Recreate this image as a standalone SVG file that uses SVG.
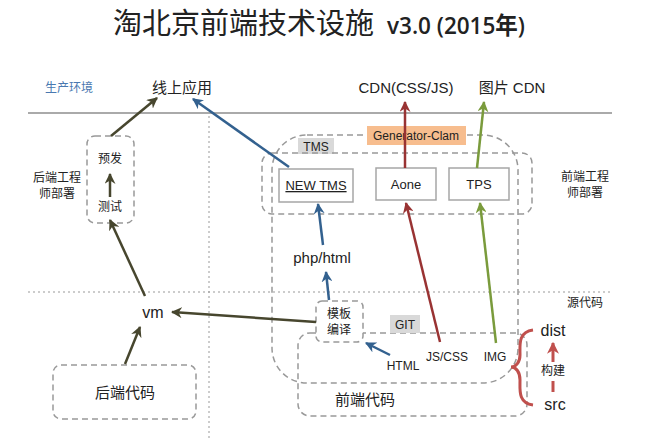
<svg xmlns="http://www.w3.org/2000/svg" width="653" height="446" viewBox="0 0 653 446">
<style>
text{font-family:"Liberation Sans","Noto Sans CJK SC",sans-serif;fill:#222;text-anchor:middle}
.cn{font-family:"Noto Sans CJK SC","Liberation Sans",sans-serif}
.dash{fill:none;stroke:#999;stroke-width:1.5;stroke-dasharray:6 4}
.dot{fill:none;stroke:#999;stroke-width:1;stroke-dasharray:2 3}
.box{fill:#fff;stroke:#a6a6a6;stroke-width:1.5}
.olive{stroke:#47462e;stroke-width:2.5;fill:none;marker-end:url(#mo)}
.blue{stroke:#33618f;stroke-width:2.5;fill:none;marker-end:url(#mb)}
.red{stroke:#993333;stroke-width:2.5;fill:none;marker-end:url(#mr)}
.green{stroke:#7a9b3c;stroke-width:2.5;fill:none;marker-end:url(#mg)}
.lred{stroke:#c0504d;stroke-width:3;fill:none}
</style>
<defs>
<marker id="mo" viewBox="0 0 10 10" refX="9" refY="5" markerWidth="4.4" markerHeight="4.4" orient="auto"><path d="M0,0 L10,5 L0,10 L3,5 z" fill="#47462e"/></marker>
<marker id="mb" viewBox="0 0 10 10" refX="9" refY="5" markerWidth="4.4" markerHeight="4.4" orient="auto"><path d="M0,0 L10,5 L0,10 L3,5 z" fill="#33618f"/></marker>
<marker id="mr" viewBox="0 0 10 10" refX="9" refY="5" markerWidth="4.4" markerHeight="4.4" orient="auto"><path d="M0,0 L10,5 L0,10 L3,5 z" fill="#993333"/></marker>
<marker id="mg" viewBox="0 0 10 10" refX="9" refY="5" markerWidth="4.4" markerHeight="4.4" orient="auto"><path d="M0,0 L10,5 L0,10 L3,5 z" fill="#7a9b3c"/></marker>
<marker id="ml" viewBox="0 0 10 10" refX="9" refY="5" markerWidth="4" markerHeight="4" orient="auto"><path d="M0,0 L10,5 L0,10 L3,5 z" fill="#c0504d"/></marker>
</defs>
<rect width="653" height="446" fill="#fff"/>

<g id="title">
<text class="cn" x="113" y="34" font-size="29" style="text-anchor:start">淘北京前端技术设施</text>
<text x="387" y="34" font-size="24" font-weight="600" style="text-anchor:start;font-family:'Open Sans','Noto Sans CJK SC',sans-serif" textLength="138" lengthAdjust="spacingAndGlyphs">v3.0 (2015年)</text>
</g>

<g id="layout">
<line x1="28" y1="113" x2="612" y2="113" stroke="#aaa" stroke-width="2"/>
<line class="dot" x1="28" y1="292" x2="612" y2="292"/>
<line class="dot" x1="209" y1="116" x2="209" y2="440"/>
<text class="cn" x="69" y="92" font-size="12" style="fill:#4a78b0">生产环境</text>
<text class="cn" x="57" y="182" font-size="12">后端工程</text>
<text class="cn" x="57" y="198" font-size="12">师部署</text>
<text class="cn" x="585" y="181" font-size="12">前端工程</text>
<text class="cn" x="585" y="197" font-size="12">师部署</text>
<text class="cn" x="585" y="307" font-size="12">源代码</text>
</g>

<g id="online"><text class="cn" x="182" y="93" font-size="15">线上应用</text></g>
<g id="cdn-css-js"><text x="406" y="93" font-size="15">CDN(CSS/JS)</text></g>
<g id="img-cdn"><text x="512" y="93" font-size="15">图片 CDN</text></g>

<g id="tms-group">
<rect class="dash" x="272" y="135" width="246" height="248" rx="35"/>
<rect x="298" y="138" width="36" height="16" fill="#d9d9d9"/>
<text x="316" y="150.5" font-size="12">TMS</text>
</g>

<g id="fe-deploy">
<rect class="dash" x="262" y="153" width="270" height="61" rx="10"/>
</g>

<g id="generator-clam">
<rect x="367" y="126" width="99" height="19" fill="#f7bd8e"/>
<text x="416" y="140" font-size="12">Generator-Clam</text>
</g>

<g id="new-tms">
<rect class="box" x="279" y="169" width="74" height="33"/>
<text x="316" y="190" font-size="13" text-decoration="underline">NEW TMS</text>
</g>
<g id="aone">
<rect class="box" x="376" y="168" width="60" height="32"/>
<text x="406" y="189" font-size="13">Aone</text>
</g>
<g id="tps">
<rect class="box" x="449" y="168" width="60" height="32"/>
<text x="479" y="189" font-size="13">TPS</text>
</g>

<g id="be-deploy">
<rect class="dash" x="87" y="136" width="47" height="87" rx="8"/>
<text class="cn" x="110" y="163" font-size="12">预发</text>
<text class="cn" x="110" y="211" font-size="12">测试</text>
</g>

<g id="php-html"><text x="322" y="263" font-size="15">php/html</text></g>
<g id="vm"><text x="153" y="318" font-size="16">vm</text></g>

<g id="fe-code">
<rect class="dash" x="298" y="333" width="229" height="83" rx="12"/>
<text class="cn" x="365" y="405" font-size="15">前端代码</text>
<rect x="390" y="315" width="30" height="18" fill="#d9d9d9"/>
<text x="405" y="328.5" font-size="12">GIT</text>
<text x="403" y="370" font-size="12">HTML</text>
<text x="447" y="361" font-size="12">JS/CSS</text>
<text x="495" y="361" font-size="12">IMG</text>
</g>

<g id="tpl-compile">
<rect class="dash" x="316" y="301" width="47" height="41" rx="6" style="fill:#fff"/>
<text class="cn" x="339" y="318" font-size="12">模板</text>
<text class="cn" x="339" y="334" font-size="12">编译</text>
</g>

<g id="be-code">
<rect class="dash" x="53" y="365" width="143" height="54" rx="8"/>
<text class="cn" x="125" y="398" font-size="15">后端代码</text>
</g>

<g id="build">
<path class="lred" d="M533,330 C518,332 520,345 520,355 C520,362 516,367 511,367 C516,367 520,372 520,380 C520,390 518,403 533,405"/>
<text x="553" y="336" font-size="16">dist</text>
<text x="555" y="410" font-size="16">src</text>
<text class="cn" x="553" y="375" font-size="12">构建</text>
</g>

<g id="connectors">
<line class="olive" x1="110" y1="197" x2="110" y2="174"/>
<line class="olive" x1="111" y1="136" x2="157" y2="98"/>
<line class="olive" x1="145" y1="296" x2="110" y2="220"/>
<line class="olive" x1="316" y1="322" x2="172" y2="312"/>
<line class="olive" x1="125" y1="364" x2="140" y2="327"/>
<line class="blue" x1="289" y1="167" x2="193" y2="99"/>
<line class="blue" x1="323" y1="245" x2="318" y2="204"/>
<line class="blue" x1="329" y1="300" x2="326" y2="272"/>
<line class="blue" x1="390" y1="355" x2="366" y2="343"/>
<line class="red" x1="405" y1="168" x2="405" y2="102"/>
<line class="red" x1="440" y1="342" x2="406" y2="203"/>
<line class="green" x1="477" y1="168" x2="484" y2="102"/>
<line class="green" x1="496" y1="343" x2="480" y2="203"/>
<line stroke="#c0504d" stroke-width="3" x1="553" y1="362" x2="553" y2="343" marker-end="url(#ml)"/>
<line stroke="#c0504d" stroke-width="3" x1="553" y1="392" x2="553" y2="381"/>
</g>
</svg>
